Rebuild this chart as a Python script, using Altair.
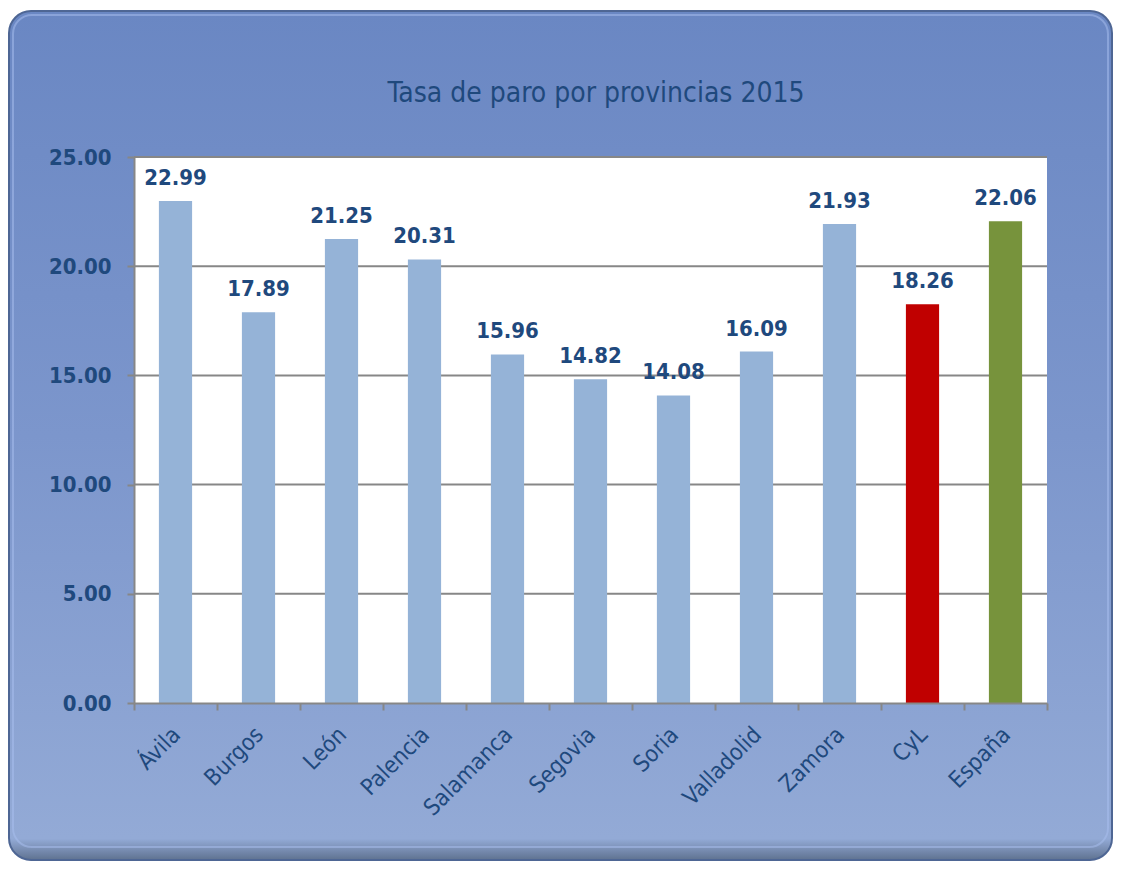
import altair as alt
import pandas as pd

categories = ["Ávila", "Burgos", "León", "Palencia", "Salamanca", "Segovia",
              "Soria", "Valladolid", "Zamora", "CyL", "España"]
values = [22.99, 17.89, 21.25, 20.31, 15.96, 14.82, 14.08, 16.09, 21.93, 18.26, 22.06]
bar_colors = ["#95b3d7"] * 9 + ["#c00000", "#77933c"]
grid_values = [5, 10, 15, 20, 25]
title_text = "Tasa de paro por provincias 2015"

W, H = 913, 546
PL, PT, PR, PB = 126, 149, 66, 158

df = pd.DataFrame({"cat": categories, "val": values, "color": bar_colors,
                   "label": [f"{v:.2f}" for v in values]})
gdf = pd.DataFrame({"g": grid_values})

DARK = "#1f497d"
FONT = "DejaVu Sans Condensed, DejaVu Sans"

frame = alt.Chart(pd.DataFrame({"a": [0]})).mark_rect(
    cornerRadius=22,
    stroke="#4e6694",
    strokeWidth=2,
    fill=alt.Gradient(
        gradient="linear", x1=0, y1=0, x2=0, y2=1,
        stops=[alt.GradientStop(color="#6a87c3", offset=0),
               alt.GradientStop(color="#7c96cc", offset=0.5),
               alt.GradientStop(color="#93aad6", offset=0.975),
               alt.GradientStop(color="#5f7290", offset=1)]),
).encode(x=alt.value(-PL + 1), x2=alt.value(W + PR - 1),
         y=alt.value(-PT + 3), y2=alt.value(H + PB - 1))

bevel = alt.Chart(pd.DataFrame({"a": [0]})).mark_rect(
    cornerRadius=19, fillOpacity=0, stroke="#a9c0f0", strokeWidth=2,
    strokeOpacity=0.5,
).encode(x=alt.value(-PL + 5), x2=alt.value(W + PR - 5),
         y=alt.value(-PT + 7), y2=alt.value(H + PB - 14))

plotbg = alt.Chart(pd.DataFrame({"a": [0]})).mark_rect(fill="white").encode(
    x=alt.value(0), x2=alt.value(W), y=alt.value(0), y2=alt.value(H))

title = alt.Chart(pd.DataFrame({"t": [title_text]})).mark_text(
    font=FONT, fontSize=28, color=DARK, align="center", baseline="alphabetic"
).encode(x=alt.value(462), y=alt.value(-55), text="t:N")

yscale = alt.Scale(domain=[0, 25])

grid = alt.Chart(gdf).mark_rule(color="#878787", strokeWidth=2).encode(
    y=alt.Y("g:Q", scale=yscale), x=alt.value(0), x2=alt.value(W))

xenc = alt.X("cat:N", sort=categories,
             scale=alt.Scale(paddingInner=0, paddingOuter=0),
             axis=alt.Axis(title=None, labelAngle=-45, labelColor=DARK,
                           labelFont=FONT, labelFontSize=23,
                           labelPadding=13, labelOffset=-7,
                           tickBand="extent", tickSize=7,
                           tickColor="#878787", tickWidth=2,
                           domainColor="#878787", domainWidth=2, zindex=1))

bars = alt.Chart(df).mark_bar(width=alt.RelativeBandSize(0.4)).encode(
    x=xenc,
    y=alt.Y("val:Q", scale=yscale,
            axis=alt.Axis(title=None, values=[0, 5, 10, 15, 20, 25], format=".2f",
                          labelColor=DARK, labelFont=FONT,
                          labelFontWeight="bold", labelFontSize=22,
                          labelPadding=16, tickSize=7, tickColor="#878787",
                          tickWidth=2, domainColor="#878787", domainWidth=2,
                          grid=False, zindex=1)),
    color=alt.Color("color:N", scale=None),
)

labels = alt.Chart(df).mark_text(
    font=FONT, fontWeight="bold", fontSize=22, color=DARK,
    baseline="alphabetic", dy=-16,
).encode(x=alt.X("cat:N", sort=categories), y=alt.Y("val:Q", scale=yscale),
         text="label:N")

chart = alt.layer(frame, bevel, plotbg, grid, bars, labels, title).properties(
    width=W, height=H,
    autosize=alt.AutoSizeParams(type="none"),
    padding={"left": PL, "top": PT, "right": PR, "bottom": PB},
    background="white",
).configure_view(strokeWidth=0, stroke="transparent")

chart.save("out.html", embed_options={"renderer": "svg", "actions": False})
